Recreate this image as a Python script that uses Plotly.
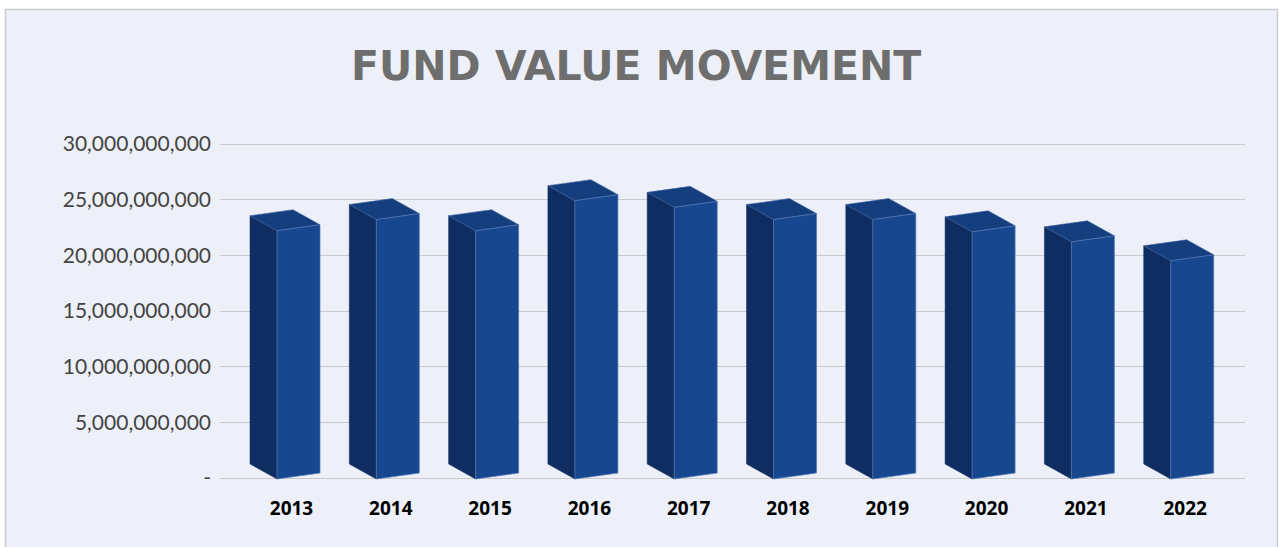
import plotly.graph_objects as go

# ---------------- data ----------------
years = ["2013", "2014", "2015", "2016", "2017", "2018", "2019", "2020", "2021", "2022"]
fund_values = [22.3e9, 23.3e9, 22.3e9, 25.0e9, 24.4e9, 23.3e9, 23.3e9, 22.2e9, 21.3e9, 19.6e9]
y_tick_values = [0, 5e9, 10e9, 15e9, 20e9, 25e9, 30e9]
title_text = "FUND VALUE MOVEMENT"

# ---------------- layout geometry ----------------
W, H = 1279, 547
ML, MR, MT, MB = 220, 34, 127, 52
PX_PER_CAT = 99.3          # pixels between categories
FIRST_CAT_PX = 291.5       # pixel centre of first category
ZERO_PX, TOP_PX = 478, 144  # pixel rows of 0 and 30bn
PX_PER_Y = (ZERO_PX - TOP_PX) / 30e9

x_range = [(ML - FIRST_CAT_PX) / PX_PER_CAT, (W - MR - FIRST_CAT_PX) / PX_PER_CAT]
y_range = [-(H - MB - ZERO_PX) / PX_PER_Y, 30e9 + (TOP_PX - MT) / PX_PER_Y]

# 3D bar shape (pixel sizes converted into data units)
fl_off = -14.5 / PX_PER_CAT
fr_off = 28.5 / PX_PER_CAT
dx = -27 / PX_PER_CAT
dy = 15 / PX_PER_Y
slope = 6 / PX_PER_Y
base = -1 / PX_PER_Y

side_x, side_y, top_x, top_y, front_x, front_y = [], [], [], [], [], []
for i, v in enumerate(fund_values):
    fl = i + fl_off
    fr = i + fr_off
    b = base
    side_x += [fl, fl, fl + dx, fl + dx, fl, None]
    side_y += [b, b + v, b + v + dy, b + dy, b, None]
    top_x += [fl, fr, fr + dx, fl + dx, fl, None]
    top_y += [b + v, b + v + slope, b + v + slope + dy, b + v + dy, b + v, None]
    front_x += [fl, fr, fr, fl, fl, None]
    front_y += [b, b + slope, b + slope + v, b + v, b, None]

fig = go.Figure()
fig.add_trace(go.Scatter(x=side_x, y=side_y, mode="lines", fill="toself",
                         fillcolor="#0F2D60", line=dict(color="#0F2D60", width=0.5),
                         hoverinfo="skip", showlegend=False))
fig.add_trace(go.Scatter(x=top_x, y=top_y, mode="lines", fill="toself",
                         fillcolor="#143E7E", line=dict(color="#3F62A0", width=0.6),
                         hoverinfo="skip", showlegend=False))
fig.add_trace(go.Scatter(x=front_x, y=front_y, mode="lines", fill="toself",
                         fillcolor="#17478F", line=dict(color="#5578B4", width=0.7),
                         hoverinfo="skip", showlegend=False))

def px_to_paper_x(px):
    return (px - ML) / (W - ML - MR)

def px_to_paper_y(py):
    return (H - MB - py) / (H - MT - MB)

fig.update_layout(
    width=W, height=H,
    margin=dict(l=ML, r=MR, t=MT, b=MB, pad=0),
    paper_bgcolor="#FFFFFF",
    plot_bgcolor="rgba(0,0,0,0)",
    showlegend=False,
    shapes=[
        dict(type="rect", xref="paper", yref="paper", layer="below",
             x0=px_to_paper_x(5.5), x1=px_to_paper_x(1277.5),
             y0=px_to_paper_y(560), y1=px_to_paper_y(9.5),
             fillcolor="#EDF0F8", line=dict(color="#CACACA", width=1.5)),
    ],
    annotations=[
        dict(text=f"<b>{title_text}</b>", xref="paper", yref="paper",
             x=px_to_paper_x(636), y=px_to_paper_y(66), xanchor="center", yanchor="middle",
             showarrow=False, font=dict(family="DejaVu Sans", size=41, color="#6E6E6E")),
    ],
    xaxis=dict(range=x_range, showgrid=False, zeroline=False, showline=False,
               tickmode="array", tickvals=list(range(len(years))), ticktext=years,
               ticks="", ticklabelstandoff=0,
               tickfont=dict(family="Open Sans", size=19, color="#000000", weight="bold")),
    yaxis=dict(range=y_range, showgrid=True, gridcolor="#C9C9C9", gridwidth=1.3,
               zeroline=False, showline=False,
               tickmode="array", tickvals=y_tick_values,
               ticktext=["-" if v == 0 else f"{v:,.0f}" for v in y_tick_values],
               ticks="", ticklabelstandoff=8,
               tickfont=dict(family="Lato", size=21, color="#444444", weight=400)),
)

fig.write_html("out.html", config={"displayModeBar": False},
               post_script="document.body.style.margin='0px';document.body.style.overflow='hidden';")
